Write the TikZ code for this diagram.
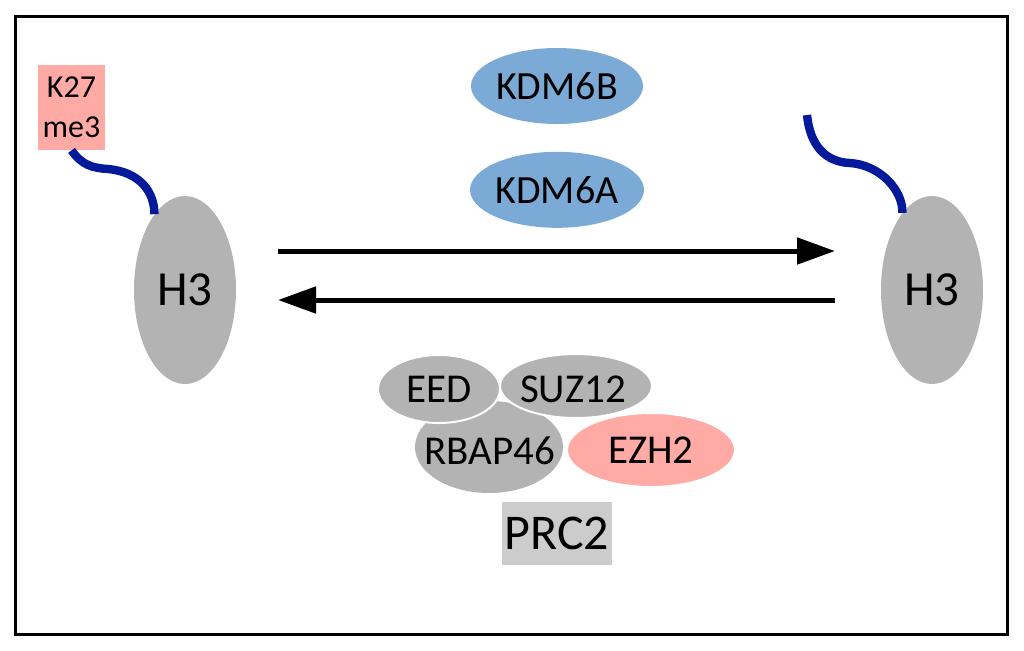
\documentclass[tikz,border=0pt]{standalone}
\usepackage{fontspec}
\setmainfont{Carlito}
\usetikzlibrary{arrows.meta}
\usetikzlibrary{positioning}
\usetikzlibrary{shapes.geometric}
\definecolor{hgray}{RGB}{179, 179, 179}
\definecolor{mpink}{RGB}{255, 170, 165}
\definecolor{mblue}{RGB}{123, 170, 215}
\definecolor{tailblue}{RGB}{5, 25, 155}
\definecolor{boxgray}{RGB}{204, 204, 204}

\begin{document}
\begin{tikzpicture}[x=0.5pt, y=-0.5pt,
    prot/.style={ellipse, inner sep=0pt, fill=hgray, font=\fontsize{20.5}{24}\selectfont},
    rim/.style={draw=white, line width=1pt},
    histone/.style={ellipse, inner sep=0pt, fill=hgray, minimum width=51pt, minimum height=94pt, font=\fontsize{24.5}{28}\selectfont},
    tail/.style={tailblue, line width=4.2pt},
    flow/.style={line width=2.5pt, -{Triangle[length=19pt, width=13pt]}}]
      \useasboundingbox (0, 0) rectangle (1024, 650);
      \draw [line width=1.5pt] (15, 16) rectangle (1007, 634);

      \node (lh3) [histone] at (185, 290) {H3};
      \node (rh3) [histone] at (932, 290) {H3};
      \node (k27) [fill=mpink, inner sep=0pt, minimum width=33.5pt, minimum height=42.5pt, align=center,
        font=\fontsize{16}{20}\selectfont] at (71.5, 107.5) {K27\\me3};

      \draw [tail] (k27.south) .. controls (82, 165) and (92, 168) .. (108, 169)
        .. controls (140, 172) and (154.5, 192) .. (lh3.112);
      \coordinate (rtip) at (807, 115);
      \draw [tail] (rtip) .. controls (810, 145) and (825, 162) .. (850, 163)
        .. controls (880, 165) and (903, 190) .. (rh3.111);

      \node (kdm6b) [prot, fill=mblue, minimum width=85pt, minimum height=38pt, font=\fontsize{20}{24}\selectfont]
        at (557, 86) {KDM6B};
      \node (kdm6a) [prot, fill=mblue, minimum width=85pt, minimum height=38pt, font=\fontsize{20}{24}\selectfont,
        below=13.5pt of kdm6b] {KDM6A};

      \coordinate (fwa) at (278, 251);
      \coordinate (fwb) at (835, 251);
      \coordinate (bwa) at (835, 300);
      \coordinate (bwb) at (278, 300);
      \draw [flow] (fwa) -- (fwb);
      \draw [flow] (bwa) -- (bwb);

      \node (rbap) [prot, minimum width=74pt, minimum height=46pt] at (489, 447) {};
      \node (suz) [prot, rim, minimum width=76pt, minimum height=32pt] at (576, 386) {};
      \node (eed) [prot, rim, minimum width=61pt, minimum height=34pt] at (439, 389) {EED};
      \node (ezh2) [prot, rim, fill=mpink, minimum width=84pt, minimum height=37pt] at (651, 450) {EZH2};
      \node (suzlbl) [font=\fontsize{20.5}{24}\selectfont] at (573, 389) {SUZ12};
      \node (rbaplbl) [font=\fontsize{20.5}{24}\selectfont] at (490, 451) {RBAP46};

      \node (prc2) [fill=boxgray, inner sep=0pt, minimum width=55pt, minimum height=31.5pt,
        font=\fontsize{25}{30}\selectfont] at (557, 533.5) {PRC2};
    \end{tikzpicture}
\end{document}
